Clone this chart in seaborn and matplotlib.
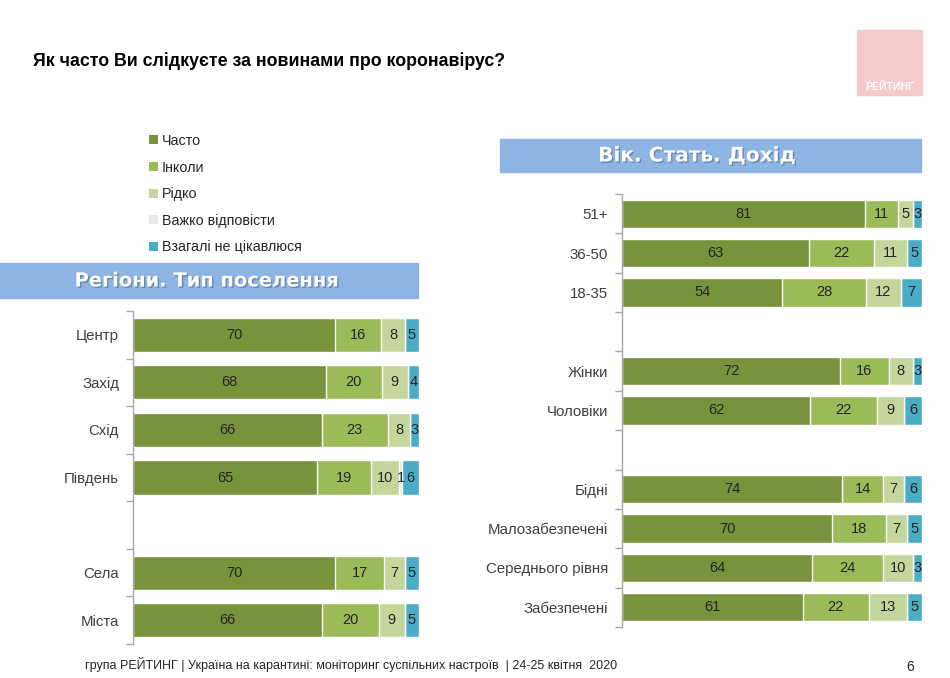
import numpy as np
import pandas as pd
import matplotlib
matplotlib.use("Agg")
import matplotlib.pyplot as plt
import matplotlib.patheffects as pe
from matplotlib.patches import Patch, Rectangle
import seaborn as sns

sns.set_theme(style="white")
plt.rcParams["font.family"] = ["Liberation Sans", "DejaVu Sans"]

# series names and colours
series = ["Часто", "Інколи", "Рідко", "Важко відповісти", "Взагалі не цікавлюся"]
colors = ["#77933C", "#9BBB59", "#C3D69B", "#E8E8E8", "#4BACC6"]

# regions / settlement type
left_groups = ["Центр", "Захід", "Схід", "Південь", "Села", "Міста"]
left_order = ["Центр", "Захід", "Схід", "Південь", " ", "Села", "Міста"]
left_often = [70, 68, 66, 65, 70, 66]
left_sometimes = [16, 20, 23, 19, 17, 20]
left_rarely = [8, 9, 8, 10, 7, 9]
left_hard = [0, 0, 0, 1, 0, 0]
left_never = [5, 4, 3, 6, 5, 5]

# age / sex / income
right_groups = ["51+", "36-50", "18-35", "Жінки", "Чоловіки",
                "Бідні", "Малозабезпечені", "Середнього рівня", "Забезпечені"]
right_order = ["51+", "36-50", "18-35", " ", "Жінки", "Чоловіки", "  ",
               "Бідні", "Малозабезпечені", "Середнього рівня", "Забезпечені"]
right_often = [81, 63, 54, 72, 62, 74, 70, 64, 61]
right_sometimes = [11, 22, 28, 16, 22, 14, 18, 24, 22]
right_rarely = [5, 11, 12, 8, 9, 7, 7, 10, 13]
right_hard = [0, 0, 0, 0, 0, 0, 0, 0, 0]
right_never = [3, 5, 7, 3, 6, 6, 5, 3, 5]

fig = plt.figure(figsize=(9.5, 6.78), dpi=100)
fig.patch.set_facecolor("white")
W, H = 950, 678


def fx(px):
    return px / W


def fy(py):
    return 1 - py / H


def stacked(ax, groups, order, values):
    df = pd.DataFrame({"group": groups})
    for name, vals in zip(series, values):
        df[name] = vals
    total = df[series].sum(axis=1)
    cum = df[series].cumsum(axis=1).div(total, axis=0) * 100
    # draw from the longest cumulative bar back to the shortest
    for i in range(len(series) - 1, -1, -1):
        d = pd.DataFrame({"group": groups, "x": cum[series[i]]})
        sns.barplot(data=d, x="x", y="group", order=order, color=colors[i],
                    saturation=1, width=0.72, errorbar=None, ax=ax)
    # value labels in the middle of each segment
    for r, g in enumerate(groups):
        ypos = order.index(g)
        prev = 0
        for i, name in enumerate(series):
            cur = cum.loc[r, name]
            v = df.loc[r, name]
            if v > 0:
                ax.text((prev + cur) / 2, ypos, str(v), ha="center", va="center",
                        fontsize=10.5, color="#262626")
            prev = cur
    ax.set_xlim(0, 100)
    ax.set_ylim(len(order) - 0.5, -0.5)
    ax.set_xlabel("")
    ax.set_ylabel("")
    ax.set_xticks([])
    for s in ["top", "right", "bottom"]:
        ax.spines[s].set_visible(False)
    ax.spines["left"].set_color("#A6A6A6")
    ax.spines["left"].set_linewidth(1)
    ax.set_yticks(np.arange(len(order) + 1) - 0.5, minor=True)
    ax.tick_params(axis="y", which="minor", length=5, color="#A6A6A6",
                   direction="out", left=True)
    ax.tick_params(axis="y", which="major", length=0, pad=10,
                   labelsize=10.8, labelcolor="#404040")
    ax.set_facecolor("none")


ax1 = fig.add_axes([fx(133), fy(644), fx(419) - fx(133), (644 - 311) / H])
stacked(ax1, left_groups, left_order,
        [left_often, left_sometimes, left_rarely, left_hard, left_never])

ax2 = fig.add_axes([fx(622), fy(627), fx(922) - fx(622), (627 - 194) / H])
stacked(ax2, right_groups, right_order,
        [right_often, right_sometimes, right_rarely, right_hard, right_never])

# title
fig.text(fx(33), fy(61), "Як часто Ви слідкуєте за новинами про коронавірус?",
         fontsize=12.8, fontweight="bold", color="black", va="center")

# logo
fig.patches.append(Rectangle((fx(857), fy(95)), fx(65), 65 / H,
                             transform=fig.transFigure, color="#F4CACA"))
fig.text(fx(890), fy(87), "РЕЙТИНГ", fontsize=7.5, fontweight="bold",
         color="white", ha="center", va="center")

# section bands
band = "#8DB4E2"
shadow = [pe.withSimplePatchShadow(offset=(1, -1), shadow_rgbFace="#4F6A8F", alpha=0.6)]
fig.patches.append(Rectangle((fx(0), fy(298)), fx(418), 35 / H,
                             transform=fig.transFigure, color=band))
fig.text(fx(207), fy(281), "Регіони. Тип поселення", fontsize=14,
         fontweight="heavy", color="white", ha="center", va="center",
         family="DejaVu Sans", path_effects=shadow)
fig.patches.append(Rectangle((fx(500), fy(172)), fx(421), 33 / H,
                             transform=fig.transFigure, color=band))
fig.text(fx(697), fy(156), "Вік. Стать. Дохід", fontsize=14.5,
         fontweight="heavy", color="white", ha="center", va="center",
         family="DejaVu Sans", path_effects=shadow)

# legend
handles = [Patch(facecolor=c, edgecolor="none", label=s) for s, c in zip(series, colors)]
fig.legend(handles=handles, loc="upper left", bbox_to_anchor=(fx(149), fy(134)),
           frameon=False, fontsize=10.3, handlelength=0.6, handleheight=0.6,
           handletextpad=0.3, labelspacing=0.88, borderaxespad=0, borderpad=0,
           labelcolor="#262626")

# footer
fig.text(fx(85), fy(665),
         "група РЕЙТИНГ | Україна на карантині: моніторинг суспільних настроїв  | 24-25 квітня  2020",
         fontsize=9, color="#262626", va="center")
fig.text(fx(910), fy(667), "6", fontsize=10, color="#262626", ha="center", va="center")

fig.savefig("out.png", dpi=100, facecolor="white")
